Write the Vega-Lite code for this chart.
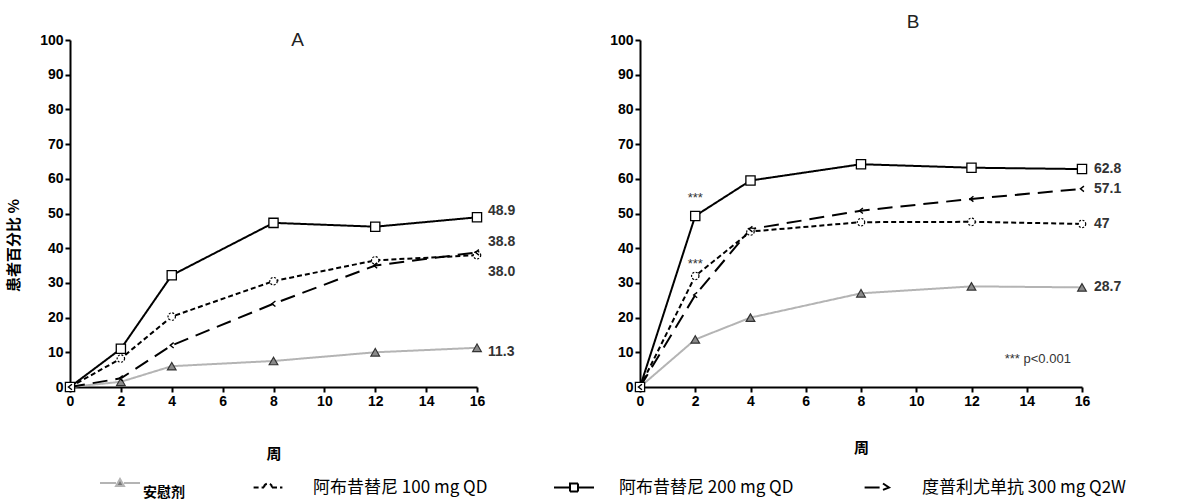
{
  "$schema": "https://vega.github.io/schema/vega-lite/v6.json",
  "background": "white",
  "padding": {"left": 6, "top": 13, "right": 5, "bottom": 0},
  "config": {
    "font": "Liberation Sans, Noto Sans CJK SC",
    "view": {"stroke": null},
    "axis": {
      "grid": false,
      "domainColor": "black",
      "domainWidth": 2,
      "tickColor": "black",
      "tickWidth": 2,
      "tickSize": 5,
      "labelFont": "Liberation Sans",
      "labelFontSize": 14,
      "labelFontWeight": "bold",
      "labelColor": "black",
      "labelFlush": false,
      "titleFont": "Noto Sans CJK SC",
      "titleFontSize": 15,
      "titleFontWeight": "bold",
      "titleColor": "black"
    },
    "title": {"font": "Liberation Sans", "fontSize": 19, "fontWeight": "normal", "color": "#222"}
  },
  "datasets": {
    "main": [
      {"panel": "A", "group": "安慰剂", "week": 0, "value": 0},
      {"panel": "A", "group": "安慰剂", "week": 2, "value": 1.5},
      {"panel": "A", "group": "安慰剂", "week": 4, "value": 6},
      {"panel": "A", "group": "安慰剂", "week": 8, "value": 7.5},
      {"panel": "A", "group": "安慰剂", "week": 12, "value": 10},
      {"panel": "A", "group": "安慰剂", "week": 16, "value": 11.3, "lab": "11.3"},
      {"panel": "A", "group": "阿布昔替尼 100 mg QD", "week": 0, "value": 0},
      {"panel": "A", "group": "阿布昔替尼 100 mg QD", "week": 2, "value": 8.2},
      {"panel": "A", "group": "阿布昔替尼 100 mg QD", "week": 4, "value": 20.3},
      {"panel": "A", "group": "阿布昔替尼 100 mg QD", "week": 8, "value": 30.5},
      {"panel": "A", "group": "阿布昔替尼 100 mg QD", "week": 12, "value": 36.5},
      {"panel": "A", "group": "阿布昔替尼 100 mg QD", "week": 16, "value": 38.0, "lab": "38.0"},
      {"panel": "A", "group": "阿布昔替尼 200 mg QD", "week": 0, "value": 0},
      {"panel": "A", "group": "阿布昔替尼 200 mg QD", "week": 2, "value": 11},
      {"panel": "A", "group": "阿布昔替尼 200 mg QD", "week": 4, "value": 32.2},
      {"panel": "A", "group": "阿布昔替尼 200 mg QD", "week": 8, "value": 47.3},
      {"panel": "A", "group": "阿布昔替尼 200 mg QD", "week": 12, "value": 46.2},
      {"panel": "A", "group": "阿布昔替尼 200 mg QD", "week": 16, "value": 48.9, "lab": "48.9"},
      {"panel": "A", "group": "度普利尤单抗 300 mg Q2W", "week": 0, "value": 0},
      {"panel": "A", "group": "度普利尤单抗 300 mg Q2W", "week": 2, "value": 2.5},
      {"panel": "A", "group": "度普利尤单抗 300 mg Q2W", "week": 4, "value": 12},
      {"panel": "A", "group": "度普利尤单抗 300 mg Q2W", "week": 8, "value": 24},
      {"panel": "A", "group": "度普利尤单抗 300 mg Q2W", "week": 12, "value": 35},
      {"panel": "A", "group": "度普利尤单抗 300 mg Q2W", "week": 16, "value": 38.8, "lab": "38.8"},
      {"panel": "B", "group": "安慰剂", "week": 0, "value": 0},
      {"panel": "B", "group": "安慰剂", "week": 2, "value": 13.7},
      {"panel": "B", "group": "安慰剂", "week": 4, "value": 20},
      {"panel": "B", "group": "安慰剂", "week": 8, "value": 27},
      {"panel": "B", "group": "安慰剂", "week": 12, "value": 29},
      {"panel": "B", "group": "安慰剂", "week": 16, "value": 28.7, "lab": "28.7"},
      {"panel": "B", "group": "阿布昔替尼 100 mg QD", "week": 0, "value": 0},
      {"panel": "B", "group": "阿布昔替尼 100 mg QD", "week": 2, "value": 32},
      {"panel": "B", "group": "阿布昔替尼 100 mg QD", "week": 4, "value": 44.8},
      {"panel": "B", "group": "阿布昔替尼 100 mg QD", "week": 8, "value": 47.5},
      {"panel": "B", "group": "阿布昔替尼 100 mg QD", "week": 12, "value": 47.6},
      {"panel": "B", "group": "阿布昔替尼 100 mg QD", "week": 16, "value": 47, "lab": "47"},
      {"panel": "B", "group": "阿布昔替尼 200 mg QD", "week": 0, "value": 0},
      {"panel": "B", "group": "阿布昔替尼 200 mg QD", "week": 2, "value": 49.3},
      {"panel": "B", "group": "阿布昔替尼 200 mg QD", "week": 4, "value": 59.5},
      {"panel": "B", "group": "阿布昔替尼 200 mg QD", "week": 8, "value": 64.2},
      {"panel": "B", "group": "阿布昔替尼 200 mg QD", "week": 12, "value": 63.2},
      {"panel": "B", "group": "阿布昔替尼 200 mg QD", "week": 16, "value": 62.8, "lab": "62.8"},
      {"panel": "B", "group": "度普利尤单抗 300 mg Q2W", "week": 0, "value": 0},
      {"panel": "B", "group": "度普利尤单抗 300 mg Q2W", "week": 2, "value": 26.5},
      {"panel": "B", "group": "度普利尤单抗 300 mg Q2W", "week": 4, "value": 45.5},
      {"panel": "B", "group": "度普利尤单抗 300 mg Q2W", "week": 8, "value": 50.8},
      {"panel": "B", "group": "度普利尤单抗 300 mg Q2W", "week": 12, "value": 54.2},
      {"panel": "B", "group": "度普利尤单抗 300 mg Q2W", "week": 16, "value": 57.1, "lab": "57.1"}
    ],
    "notes": [
      {"week": 2, "value": 54.5, "text": "***"},
      {"week": 2, "value": 35.5, "text": "***"},
      {"week": 14.4, "value": 8.2, "text": "*** p<0.001"}
    ]
  },
  "bounds": "flush",
  "spacing": 163,
  "hconcat": [
    {
      "width": 407,
      "height": 347,
      "title": {"text": "A", "offset": -17, "dx": 24},
      "data": {"name": "main"},
      "transform": [{"filter": "datum.panel === 'A'"}],
      "encoding": {
        "x": {"field": "week", "type": "quantitative", "scale": {"domain": [0, 16], "nice": false}, "axis": {"values": [0, 2, 4, 6, 8, 10, 12, 14, 16], "title": "周", "titlePadding": 38}},
        "y": {"field": "value", "type": "quantitative", "scale": {"domain": [0, 100], "nice": false}, "axis": {"values": [0, 10, 20, 30, 40, 50, 60, 70, 80, 90, 100], "title": "患者百分比 %", "titlePadding": 18, "titleY": 205}}
      },
      "layer": [
        {
          "mark": {"type": "line"},
          "encoding": {
            "color": {"field": "group", "type": "nominal", "scale": {"domain": ["安慰剂", "阿布昔替尼 100 mg QD", "阿布昔替尼 200 mg QD", "度普利尤单抗 300 mg Q2W"], "range": ["#b4b4b4", "#000000", "#000000", "#000000"]},
              "legend": {
                "orient": "none", "legendX": 29, "legendY": 422, "direction": "horizontal", "columns": 4, "columnPadding": 62, "padding": 0, "title": null,
                "symbolSize": 1600, "symbolStrokeWidth": 2, "labelFont": "Noto Sans CJK SC", "labelFontSize": 17, "labelColor": "black", "labelOffset": 24, "labelLimit": 400,
                "encode": {
                  "symbols": {"update": {
                    "size": {"value": 1600},
                    "shape": {"signal": "datum.value === '安慰剂' ? 'M-1,0L-0.2,0M0.2,0L1,0M-0.2,0.15L0,-0.2L0.2,0.15Z' : datum.value === '阿布昔替尼 100 mg QD' ? 'M-0.72,0L-0.2,0M-0.2,0A0.2,0.2 0 1,1 0.2,0M0.2,0L0.72,0' : datum.value === '阿布昔替尼 200 mg QD' ? 'M-1,0L-0.2,0M0.2,0L1,0M-0.2,-0.2L0.2,-0.2L0.2,0.2L-0.2,0.2Z' : 'M-0.62,0L0.55,0M0.3,-0.2L0.6,0L0.3,0.12'"},
                    "strokeDash": {"signal": "datum.value === '阿布昔替尼 100 mg QD' ? [5,3] : [1,0]"},
                    "strokeWidth": {"signal": "datum.value === '安慰剂' ? 2 : 3"},
                    "fill": {"signal": "datum.value === '安慰剂' ? '#777777' : 'transparent'"}
                  }},
                  "labels": {"update": {
                    "fontWeight": {"signal": "datum.value === '安慰剂' ? 'bold' : 'normal'"},
                    "fontSize": {"signal": "datum.value === '安慰剂' ? 14 : 17"},
                    "dy": {"signal": "datum.value === '安慰剂' ? 10 : 0"},
                    "dx": {"signal": "datum.value === '安慰剂' ? -22 : 0"}
                  }}
                }
              }
            },
            "strokeDash": {"field": "group", "type": "nominal", "scale": {"domain": ["安慰剂", "阿布昔替尼 100 mg QD", "阿布昔替尼 200 mg QD", "度普利尤单抗 300 mg Q2W"], "range": [[1, 0], [5, 3], [1, 0], [15, 8]]}, "legend": null},
            "strokeWidth": {"field": "group", "type": "nominal", "scale": {"domain": ["安慰剂", "阿布昔替尼 100 mg QD", "阿布昔替尼 200 mg QD", "度普利尤单抗 300 mg Q2W"], "range": [2, 2, 1.6, 3.2]}, "legend": null}
          }
        },
        {
          "transform": [{"filter": "datum.group === '安慰剂'"}],
          "mark": {"type": "point", "shape": "triangle-up", "filled": true, "fill": "#8a8a8a", "stroke": "#333333", "strokeWidth": 1.2, "size": 75, "opacity": 1}
        },
        {
          "transform": [{"filter": "datum.group === '阿布昔替尼 100 mg QD'"}],
          "mark": {"type": "point", "shape": "circle", "filled": true, "fill": "white", "stroke": "black", "strokeWidth": 1.2, "strokeDash": [2, 1.5], "size": 55, "opacity": 1}
        },
        {
          "transform": [{"filter": "datum.group === '阿布昔替尼 200 mg QD'"}],
          "mark": {"type": "point", "shape": "square", "filled": true, "fill": "white", "stroke": "black", "strokeWidth": 1.3, "size": 85, "opacity": 1}
        },
        {
          "transform": [{"filter": "datum.group === '度普利尤单抗 300 mg Q2W'"}],
          "mark": {"type": "point", "shape": "M0.5,-0.7L-0.4,0L0.5,0.7", "filled": false, "stroke": "black", "strokeWidth": 1.4, "size": 60, "opacity": 1}
        },
        {
          "transform": [{"filter": "datum.lab === '48.9'"}],
          "mark": {"type": "text", "align": "left", "dx": 11, "dy": -6, "fontSize": 14, "fontWeight": "bold", "color": "#333", "font": "Liberation Sans"},
          "encoding": {"text": {"field": "lab"}}
        },
        {
          "transform": [{"filter": "datum.lab === '38.8'"}],
          "mark": {"type": "text", "align": "left", "dx": 11, "dy": -10, "fontSize": 14, "fontWeight": "bold", "color": "#333", "font": "Liberation Sans"},
          "encoding": {"text": {"field": "lab"}}
        },
        {
          "transform": [{"filter": "datum.lab === '38.0'"}],
          "mark": {"type": "text", "align": "left", "dx": 11, "dy": 17, "fontSize": 14, "fontWeight": "bold", "color": "#333", "font": "Liberation Sans"},
          "encoding": {"text": {"field": "lab"}}
        },
        {
          "transform": [{"filter": "datum.lab === '11.3'"}],
          "mark": {"type": "text", "align": "left", "dx": 11, "dy": 4, "fontSize": 14, "fontWeight": "bold", "color": "#333", "font": "Liberation Sans"},
          "encoding": {"text": {"field": "lab"}}
        }
      ]
    },
    {
      "width": 442,
      "height": 347,
      "title": {"text": "B", "offset": 1, "dx": 52},
      "encoding": {
        "x": {"field": "week", "type": "quantitative", "scale": {"domain": [0, 16], "nice": false}, "axis": {"values": [0, 2, 4, 6, 8, 10, 12, 14, 16], "title": "周", "titlePadding": 32}},
        "y": {"field": "value", "type": "quantitative", "scale": {"domain": [0, 100], "nice": false}, "axis": {"values": [0, 10, 20, 30, 40, 50, 60, 70, 80, 90, 100], "title": null}}
      },
      "layer": [
        {
          "data": {"name": "main"},
          "transform": [{"filter": "datum.panel === 'B'"}],
          "layer": [
            {
              "mark": {"type": "line"},
              "encoding": {
                "color": {"field": "group", "type": "nominal", "scale": {"domain": ["安慰剂", "阿布昔替尼 100 mg QD", "阿布昔替尼 200 mg QD", "度普利尤单抗 300 mg Q2W"], "range": ["#b4b4b4", "#000000", "#000000", "#000000"]}},
                "strokeDash": {"field": "group", "type": "nominal", "scale": {"domain": ["安慰剂", "阿布昔替尼 100 mg QD", "阿布昔替尼 200 mg QD", "度普利尤单抗 300 mg Q2W"], "range": [[1, 0], [5, 3], [1, 0], [15, 8]]}, "legend": null},
                "strokeWidth": {"field": "group", "type": "nominal", "scale": {"domain": ["安慰剂", "阿布昔替尼 100 mg QD", "阿布昔替尼 200 mg QD", "度普利尤单抗 300 mg Q2W"], "range": [2, 2, 1.6, 3.2]}, "legend": null}
              }
            },
            {
              "transform": [{"filter": "datum.group === '安慰剂'"}],
              "mark": {"type": "point", "shape": "triangle-up", "filled": true, "fill": "#8a8a8a", "stroke": "#333333", "strokeWidth": 1.2, "size": 75, "opacity": 1}
            },
            {
              "transform": [{"filter": "datum.group === '阿布昔替尼 100 mg QD'"}],
              "mark": {"type": "point", "shape": "circle", "filled": true, "fill": "white", "stroke": "black", "strokeWidth": 1.2, "strokeDash": [2, 1.5], "size": 55, "opacity": 1}
            },
            {
              "transform": [{"filter": "datum.group === '阿布昔替尼 200 mg QD'"}],
              "mark": {"type": "point", "shape": "square", "filled": true, "fill": "white", "stroke": "black", "strokeWidth": 1.3, "size": 85, "opacity": 1}
            },
            {
              "transform": [{"filter": "datum.group === '度普利尤单抗 300 mg Q2W'"}],
              "mark": {"type": "point", "shape": "M0.5,-0.7L-0.4,0L0.5,0.7", "filled": false, "stroke": "black", "strokeWidth": 1.4, "size": 60, "opacity": 1}
            },
            {
              "transform": [{"filter": "datum.lab"}],
              "mark": {"type": "text", "align": "left", "dx": 12, "dy": 0, "fontSize": 14, "fontWeight": "bold", "color": "#333", "font": "Liberation Sans"},
              "encoding": {"text": {"field": "lab"}}
            }
          ]
        },
        {
          "data": {"name": "notes"},
          "mark": {"type": "text", "align": "center", "fontSize": 13, "color": "#333", "font": "Liberation Sans"},
          "encoding": {
            "text": {"field": "text"}
          }
        }
      ]
    }
  ]
}
